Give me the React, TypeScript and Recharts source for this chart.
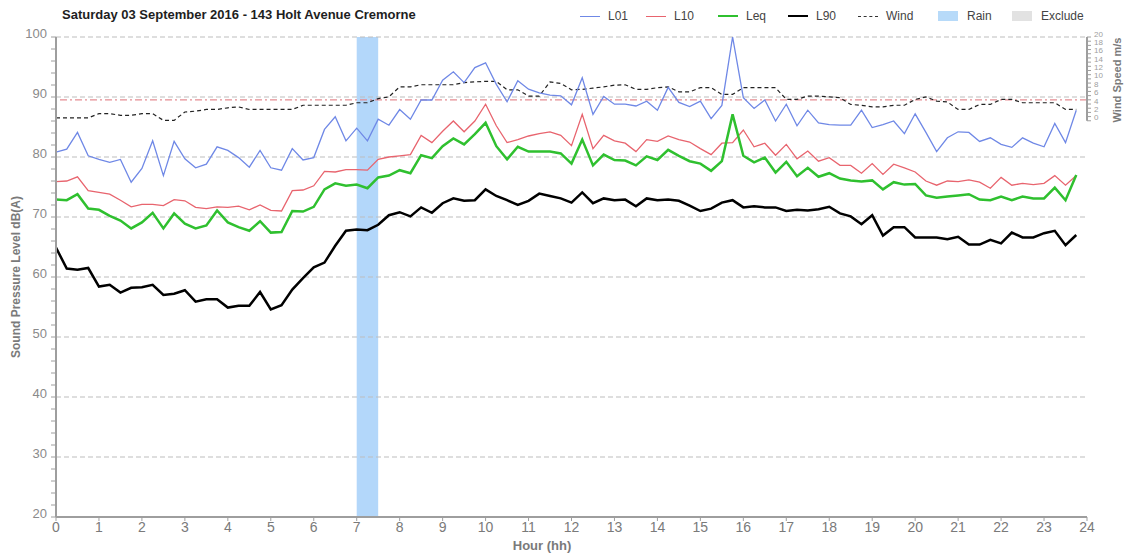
import React from "react";
import { LineChart, Line, XAxis, YAxis, ReferenceLine, ReferenceArea } from "recharts";

// 15-minute noise log, hours 0..23.75
const l01 = [
  80.8, 81.3, 84.1, 80.2, 79.6, 79.1, 79.6, 75.8, 78.1, 82.7, 76.9, 82.6, 79.7, 78.2, 78.8, 81.7,
  81.1, 79.9, 78.3, 81.1, 78.2, 77.8, 81.4, 79.5, 79.9, 84.6, 86.7, 82.7, 84.8, 82.7, 86.3, 85.3,
  87.9, 86.3, 89.5, 89.5, 92.8, 94.2, 92.4, 94.9, 95.7, 92.1, 89.2, 92.7, 91.3, 90.7, 90.3, 90.2,
  88.7, 93.2, 87.1, 90.1, 88.8, 88.8, 88.5, 89.3, 87.8, 91.6, 89.1, 88.4, 89.3, 86.4, 88.6, 100,
  89.9, 88.1, 89.5, 86.0, 88.8, 85.2, 87.8, 85.7, 85.4, 85.3, 85.3, 87.8, 84.9, 85.4, 86.0, 83.9,
  87.2, 84.1, 80.9, 83.2, 84.2, 84.1, 82.6, 83.2, 82.1, 81.6, 83.2, 82.3, 81.7, 85.6, 82.4, 87.8,
];
const l10 = [
  75.9, 76.0, 76.7, 74.4, 74.1, 73.8, 72.8, 71.7, 72.1, 72.1, 71.9, 72.9, 72.7, 71.6, 71.4, 71.7,
  71.6, 71.8, 71.2, 72.0, 71.1, 71.0, 74.4, 74.5, 75.2, 77.6, 77.5, 77.9, 77.9, 77.8, 79.6, 80.0,
  80.2, 80.4, 83.6, 82.4, 84.3, 86.0, 84.2, 86.0, 88.8, 85.2, 82.4, 82.9, 83.5, 83.9, 84.2, 83.6,
  81.9, 87.1, 81.4, 83.6, 82.7, 82.3, 80.9, 82.9, 82.6, 83.5, 82.9, 82.5, 81.4, 80.4, 82.3, 82.4,
  84.5, 81.7, 82.3, 80.3, 82.1, 79.7, 81.0, 79.3, 79.9, 78.6, 78.6, 77.3, 78.9, 77.1, 78.8, 78.2,
  77.5, 76.0, 75.3, 76.0, 75.9, 76.2, 75.8, 74.8, 76.6, 75.3, 75.6, 75.4, 75.6, 76.9, 75.3, 76.9,
];
const leq = [
  72.9, 72.8, 73.8, 71.4, 71.2, 70.2, 69.4, 68.1, 69.1, 70.7, 68.1, 70.6, 68.9, 68.1, 68.6, 71.1,
  69.1, 68.3, 67.7, 69.3, 67.4, 67.5, 71.0, 70.9, 71.7, 74.6, 75.6, 75.2, 75.4, 74.8, 76.6, 76.9,
  77.8, 77.3, 80.3, 79.8, 81.8, 83.1, 82.1, 83.8, 85.7, 81.8, 79.6, 81.7, 80.9, 80.9, 80.9, 80.6,
  78.9, 82.9, 78.6, 80.4, 79.5, 79.4, 78.6, 80.1, 79.5, 81.2, 80.2, 79.3, 78.9, 77.7, 79.3, 87.1,
  80.2, 79.1, 79.9, 77.4, 79.2, 76.8, 78.2, 76.7, 77.3, 76.4, 76.1, 75.9, 76.1, 74.6, 75.8, 75.4,
  75.5, 73.6, 73.2, 73.4, 73.6, 73.8, 72.9, 72.8, 73.4, 72.8, 73.4, 73.1, 73.1, 74.9, 72.8, 77.0,
];
const l90 = [
  64.9, 61.4, 61.2, 61.5, 58.4, 58.7, 57.4, 58.2, 58.3, 58.7, 57.0, 57.2, 57.8, 55.9, 56.3, 56.3,
  54.9, 55.2, 55.2, 57.5, 54.6, 55.3, 57.9, 59.8, 61.6, 62.4, 65.2, 67.7, 67.9, 67.8, 68.7, 70.3,
  70.8, 70.1, 71.6, 70.7, 72.3, 73.1, 72.7, 72.8, 74.6, 73.5, 72.8, 72.0, 72.7, 73.9, 73.5, 73.1,
  72.4, 74.1, 72.3, 73.1, 72.8, 72.9, 71.8, 73.1, 72.8, 72.9, 72.7, 71.9, 71.0, 71.4, 72.4, 72.8,
  71.6, 71.8, 71.6, 71.6, 71.0, 71.2, 71.1, 71.3, 71.7, 70.6, 70.1, 68.8, 70.3, 66.9, 68.3, 68.3,
  66.6, 66.6, 66.6, 66.3, 66.7, 65.4, 65.4, 66.2, 65.6, 67.4, 66.6, 66.6, 67.3, 67.7, 65.3, 67.0,
];
const wind = [
  0.7, 0.7, 0.7, 0.7, 1.7, 1.7, 1.3, 1.3, 1.7, 1.7, 0.1, 0.1, 2.1, 2.3, 2.7, 2.7,
  3.1, 3.3, 2.7, 2.7, 2.7, 2.7, 2.7, 3.7, 3.7, 3.7, 3.7, 3.7, 4.3, 4.3, 5.3, 5.7,
  8.1, 8.1, 8.6, 8.6, 8.6, 8.6, 9.1, 9.3, 9.4, 9.4, 7.4, 7.4, 5.9, 5.9, 9.3, 8.9,
  7.4, 7.5, 7.8, 8.1, 8.5, 8.6, 7.5, 7.5, 7.9, 8.1, 6.9, 6.9, 7.9, 7.9, 6.3, 6.3,
  7.9, 7.9, 7.9, 7.9, 5.1, 5.1, 5.9, 5.9, 5.7, 5.5, 3.9, 3.7, 3.3, 3.3, 3.7, 3.7,
  5.1, 5.7, 4.7, 4.5, 2.7, 2.7, 3.9, 3.9, 5.1, 5.1, 4.3, 4.3, 4.3, 4.3, 2.7, 2.7,
];

const hourTicks = [0, 1, 2, 3, 4, 5, 6, 7, 8, 9, 10, 11, 12, 13, 14, 15, 16, 17, 18, 19, 20, 21, 22, 23, 24];
const dbTicks = [
  20, 22, 24, 26, 28, 30, 32, 34, 36, 38, 40, 42, 44, 46, 48, 50, 52, 54, 56, 58, 60,
  62, 64, 66, 68, 70, 72, 74, 76, 78, 80, 82, 84, 86, 88, 90, 92, 94, 96, 98, 100,
];
const gridLevels = [30, 40, 50, 60, 70, 80, 90, 100];
const windTicks = [0, 1, 2, 3, 4, 5, 6, 7, 8, 9, 10, 11, 12, 13, 14, 15, 16, 17, 18, 19, 20];
const windLimit = 5;
const rainFrom = 7;
const rainTo = 7.5;

const data = l01.map((v, i) => ({
  hour: i * 0.25,
  l01: v,
  l10: l10[i],
  leq: leq[i],
  l90: l90[i],
  wind: wind[i],
}));

const FONT = "'Liberation Sans', Arial, sans-serif";
const NARROW = "'Liberation Sans Narrow', 'Liberation Sans', Arial, sans-serif";

const DbTick = ({ x, y, payload }: any) =>
  payload.value % 10 === 0 ? (
    <text x={x} y={y - 4} textAnchor="end" dominantBaseline="central" fill="#8a8a8a" fontSize={13} fontFamily={FONT}>
      {payload.value}
    </text>
  ) : (
    <g />
  );

const WindTick = ({ x, y, payload }: any) =>
  payload.value % 2 === 0 ? (
    <text x={x} y={y - 3} textAnchor="start" dominantBaseline="central" fill="#a0a0a0" fontSize={8} fontFamily={FONT}>
      {payload.value}
    </text>
  ) : (
    <g />
  );

const legendItems = [
  { name: "L01", left: 580, kind: "line", color: "#6f88e6", w: 1.5 },
  { name: "L10", left: 646, kind: "line", color: "#e8646e", w: 1.5 },
  { name: "Leq", left: 718, kind: "line", color: "#2fc02f", w: 2.5 },
  { name: "L90", left: 788, kind: "line", color: "#000", w: 2.5 },
  { name: "Wind", left: 858, kind: "dash", color: "#333", w: 1.5 },
  { name: "Rain", left: 938, kind: "box", color: "#b7daf9", w: 0 },
  { name: "Exclude", left: 1012, kind: "box", color: "#e2e2e2", w: 0 },
];

function ChartLegend() {
  return (
    <>
      {legendItems.map((it) => (
        <div key={it.name} style={{ position: "absolute", left: it.left, top: 8, height: 16, display: "flex", alignItems: "center" }}>
          {it.kind === "box" ? (
            <div style={{ width: 20, height: 10, background: it.color }} />
          ) : (
            <div
              style={{
                width: 20,
                height: 0,
                borderTop: `${it.w}px ${it.kind === "dash" ? "dashed" : "solid"} ${it.color}`,
              }}
            />
          )}
          <span style={{ marginLeft: it.kind === "box" ? 9 : 8, fontSize: 12, color: "#444", fontFamily: FONT }}>{it.name}</span>
        </div>
      ))}
    </>
  );
}

export default function App() {
  return (
    <div style={{ position: "absolute", left: 0, top: 0, width: 1124, height: 555, background: "#fff", fontFamily: FONT }}>
      <div style={{ position: "absolute", left: 62, top: 7, fontSize: 13, fontWeight: 700, color: "#1e1e1e" }}>
        Saturday 03 September 2016 - 143 Holt Avenue Cremorne
      </div>
      <ChartLegend />
      <LineChart width={1124} height={555} data={data} margin={{ top: 37, right: 0, bottom: 0, left: 0 }}>
        <XAxis
          dataKey="hour"
          type="number"
          domain={[0, 24]}
          ticks={hourTicks}
          interval={0}
          height={38}
          axisLine={{ stroke: "#9e9e9e", strokeWidth: 2 }}
          tickLine={{ stroke: "#9e9e9e" }}
          tickSize={4}
          tickMargin={1}
          tick={{ fill: "#7a7a7a", fontSize: 14, fontFamily: NARROW }}
          label={{
            content: () => (
              <text x={542} y={545} textAnchor="middle" dominantBaseline="central" fill="#7a7a7a" fontSize={13} fontWeight={700} fontFamily={NARROW}>
                Hour (hh)
              </text>
            ),
          }}
        />
        <YAxis
          yAxisId="db"
          type="number"
          domain={[20, 100]}
          ticks={dbTicks}
          interval={0}
          width={56}
          allowDataOverflow
          axisLine={{ stroke: "#9e9e9e", strokeWidth: 2 }}
          tickLine={{ stroke: "#9e9e9e" }}
          tickSize={5}
          tickMargin={4}
          tick={<DbTick />}
          label={{
            content: () => (
              <text
                x={16}
                y={277}
                transform="rotate(-90 16 277)"
                textAnchor="middle"
                dominantBaseline="central"
                fill="#7a7a7a"
                fontSize={12}
                fontWeight={700}
                fontFamily={FONT}
              >
                Sound Pressure Level dB(A)
              </text>
            ),
          }}
        />
        <YAxis
          yAxisId="wind"
          orientation="right"
          type="number"
          domain={[-94.6, 20]}
          ticks={windTicks}
          interval={0}
          width={37}
          allowDataOverflow
          axisLine={false}
          tickLine={{ stroke: "#9e9e9e" }}
          tickSize={4}
          tickMargin={3}
          tick={<WindTick />}
          label={{
            content: () => (
              <text
                x={1117}
                y={80}
                transform="rotate(-90 1117 80)"
                textAnchor="middle"
                dominantBaseline="central"
                fill="#7a7a7a"
                fontSize={11}
                fontWeight={700}
                fontFamily={FONT}
              >
                Wind Speed  m/s
              </text>
            ),
          }}
        />
        <ReferenceArea yAxisId="db" x1={rainFrom} x2={rainTo} y1={20} y2={100} fill="#b3d7fa" fillOpacity={1} stroke="none" />
        {gridLevels.map((v) => (
          <ReferenceLine key={v} yAxisId="db" y={v} stroke="#bdbdbd" strokeWidth={1.2} strokeDasharray="5 3" />
        ))}
        <ReferenceLine yAxisId="wind" y={windLimit} stroke="#e58d93" strokeWidth={1.2} strokeDasharray="7 3 2 3" />
        <ReferenceLine
          yAxisId="wind"
          segment={[
            { x: 24, y: 0 },
            { x: 24, y: 20 },
          ]}
          stroke="#9e9e9e"
          strokeWidth={2}
        />
        <Line yAxisId="wind" type="linear" dataKey="wind" stroke="#222" strokeWidth={1.2} strokeDasharray="4 3" dot={false} isAnimationActive={false} />
        <Line yAxisId="db" type="linear" dataKey="l01" stroke="#6f88e6" strokeWidth={1.3} dot={false} isAnimationActive={false} />
        <Line yAxisId="db" type="linear" dataKey="l10" stroke="#e8646e" strokeWidth={1.3} dot={false} isAnimationActive={false} />
        <Line yAxisId="db" type="linear" dataKey="leq" stroke="#2fc02f" strokeWidth={2.5} dot={false} isAnimationActive={false} />
        <Line yAxisId="db" type="linear" dataKey="l90" stroke="#000" strokeWidth={2.5} dot={false} isAnimationActive={false} />
      </LineChart>
    </div>
  );
}
